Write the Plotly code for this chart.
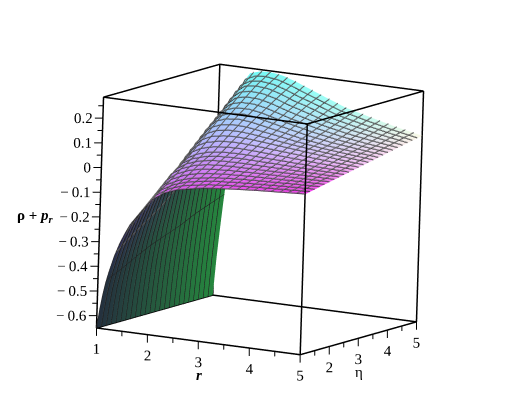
import plotly.graph_objects as go

R_RANGE = [1, 5]
ETA_RANGE = [1, 5]
Z_RANGE = [-0.65, 0.285]

r_vals = [1, 1.05, 1.1, 1.15, 1.2, 1.3, 1.4, 1.5, 1.6, 1.8, 2, 2.25, 2.5, 2.75, 3, 3.5, 4, 4.5, 5]
eta_vals = [1, 1.5, 2, 2.5, 3, 3.5, 4, 4.5, 5]

# rho + p_r, one row per eta
z_eta_10 = [-.65, -.575, -.515, -.465, -.425, -.355, -.30, -.255, -.215, -.16, -.105, -.07, -.05, -.04, -.03, -.02, -.012, -.006, 0]
z_eta_15 = [-.65, -.56, -.49, -.44, -.39, -.31, -.25, -.195, -.16, -.10, -.06, -.035, -.02, -.012, -.005, .002, .006, .01, .013]
z_eta_20 = [-.65, -.55, -.47, -.41, -.35, -.27, -.20, -.145, -.105, -.04, -.012, .008, .018, .022, .024, .025, .026, .026, .026]
z_eta_25 = [-.65, -.54, -.45, -.38, -.32, -.23, -.15, -.09, -.045, .006, .03, .045, .052, .054, .054, .05, .046, .042, .039]
z_eta_30 = [-.65, -.53, -.43, -.36, -.29, -.18, -.09, -.03, .02, .065, .085, .095, .097, .095, .09, .08, .07, .06, .052]
z_eta_35 = [-.65, -.52, -.42, -.34, -.26, -.13, -.03, .035, .082, .125, .14, .145, .14, .13, .12, .10, .085, .075, .065]
z_eta_40 = [-.65, -.51, -.40, -.31, -.23, -.09, .03, .10, .14, .178, .19, .19, .18, .165, .15, .125, .105, .09, .078]
z_eta_45 = [-.65, -.51, -.39, -.29, -.20, -.04, .08, .16, .205, .235, .24, .235, .22, .20, .185, .15, .127, .108, .091]
z_eta_50 = [-.65, -.50, -.38, -.27, -.17, 0, .13, .22, .265, .278, .28, .272, .255, .235, .215, .176, .15, .125, .104]
z_rows = [z_eta_10, z_eta_15, z_eta_20, z_eta_25, z_eta_30, z_eta_35, z_eta_40, z_eta_45, z_eta_50]

r_major = [1, 2, 3, 4, 5]
r_minor = [1.5, 2.5, 3.5, 4.5]
r_labels = ["1", "2", "3", "4", "5"]
eta_major = [2, 3, 4, 5]
eta_minor = [1.5, 2.5, 3.5, 4.5]
eta_labels = ["2", "3", "4", "5"]
z_major = [-.6, -.5, -.4, -.3, -.2, -.1, 0, .1, .2]
z_minor = [-.55, -.45, -.35, -.25, -.15, -.05, .05, .15, .25]
z_labels = ["\u2212\u20090.6", "\u2212\u20090.5", "\u2212\u20090.4", "\u2212\u20090.3", "\u2212\u20090.2", "\u2212\u20090.1", "0", "0.1", "0.2"]

# colours of the upper side, columns are low/mid/high r, rows are low/mid/high eta
top_colors = [
    [(210, 100, 240), (232, 80, 240), (240, 60, 235)],
    [(175, 185, 255), (200, 195, 255), (245, 195, 245)],
    [(110, 250, 245), (165, 255, 245), (250, 250, 230)],
]

BOX_PX = 236  # box edge on the screen
PAD = 0.05  # axis ranges run a little past the box so the tick marks are not clipped
VIEW_SCALE = 1.281
WALL_COLS = 8  # columns of the table that make up the steep wall


def mix(a, b, t):
    return tuple(a[i] + (b[i] - a[i]) * t for i in range(3))


def top_color(r, eta):
    w = max(0, min(1, ((r - 1) / 4 - 0.15) / 0.85)) * 2
    v = (eta - 1) / 4 * 2
    wi, vi = min(int(w), 1), min(int(v), 1)
    low = mix(top_colors[vi][wi], top_colors[vi][wi + 1], w - wi)
    high = mix(top_colors[vi + 1][wi], top_colors[vi + 1][wi + 1], w - wi)
    return mix(low, high, v - vi)


def under_color(r, eta):
    v = (eta - 1) / 4
    base = mix((36, 48, 62), (38, 135, 62), v)
    return mix(base, (62, 50, 112), max(0, min(1, (r - 1.15) / 0.45)) * (1 - v))


def vertex_color(r, eta):
    c = under_color(r, eta) if r <= 1.8 - 0.125 * (eta - 1) else top_color(r, eta)
    return "rgb(%d,%d,%d)" % c


xs, ys, zs, colors, ii, jj, kk = [], [], [], [], [], [], []
nr = len(r_vals)
for e, eta in enumerate(eta_vals):
    for c, r in enumerate(r_vals):
        xs.append(r)
        ys.append(eta)
        zs.append(z_rows[e][c])
        colors.append(vertex_color(r, eta))
for e in range(len(eta_vals) - 1):
    for c in range(nr - 1):
        a = e * nr + c
        ii += [a, a]
        jj += [a + 1, a + 1 + nr]
        kk += [a + 1 + nr, a + nr]

fig = go.Figure()

fig.add_trace(go.Mesh3d(
    x=xs, y=ys, z=zs, i=ii, j=jj, k=kk, vertexcolor=colors,
    lighting=dict(ambient=1, diffuse=0, specular=0, fresnel=0, roughness=1),
    hoverinfo="skip", showscale=False,
))


# mesh lines only: eta lines plus the one r line seen under the wall, the r lines
# further up, a slightly lifted copy that thickens them on the upper side, and a
# shifted copy of the wall alone that thickens the stripes under it
def mesh_lines(lift, eta_shift, x_range, show_y, color, cols=None):
    fig.add_trace(go.Surface(
        x=r_vals[:cols], y=[e + eta_shift for e in eta_vals],
        z=[[v + lift for v in row[:cols]] for row in z_rows],
        hidesurface=True, showscale=False, hoverinfo="skip",
        contours=dict(
            x=dict(show=x_range is not None, start=x_range[0] if x_range else 1, end=x_range[1] if x_range else 5,
                   size=1 / 6, color=color, width=2),
            y=dict(show=show_y, start=1, end=5, size=1 / 6, color=color, width=2),
        ),
    ))


mesh_lines(0, 0, (7 / 6, 7 / 6 + 0.01), True, "#222222")
mesh_lines(0, 0, (8 / 6, 5), False, "#4a4a4a")
mesh_lines(0.003, 0, (8 / 6, 5), True, "#6a6a6a")
mesh_lines(-0.004, 0.03, None, True, "#1c1c1c", cols=WALL_COLS)

# the box
r0, r1 = R_RANGE
e0, e1 = ETA_RANGE
z0, z1 = Z_RANGE
box_x = [r0, r1, r1, r0, r0, r0, r1, r1, r0, r0, None, r1, r1, None, r1, r1, None, r0, r0]
box_y = [e0, e0, e1, e1, e0, e0, e0, e1, e1, e0, None, e0, e0, None, e1, e1, None, e1, e1]
box_z = [z0, z0, z0, z0, z0, z1, z1, z1, z1, z1, None, z0, z1, None, z0, z1, None, z0, z1]
fig.add_trace(go.Scatter3d(
    x=box_x, y=box_y, z=box_z, mode="lines",
    line=dict(color="black", width=3), hoverinfo="skip", showlegend=False,
))

# tick marks, drawn along the screen directions
sr, se, sz = (r1 - r0) / BOX_PX, (e1 - e0) / BOX_PX, (z1 - z0) / BOX_PX
LEFT = (-0.869 * sr, -0.496 * se, -0.030 * sz)
DOWN = (0.114 * sr, -0.140 * se, -0.983 * sz)
MAJOR, MINOR = 8, 5
LABEL_DOWN, LABEL_LEFT = 1, -4


def tick_end(p, d, length):
    return (p[0] + d[0] * length, p[1] + d[1] * length, p[2] + d[2] * length)


tx, ty, tz = [], [], []


def add_tick(p, d, length):
    q = tick_end(p, d, length)
    tx.extend([p[0], q[0], None])
    ty.extend([p[1], q[1], None])
    tz.extend([p[2], q[2], None])


for v in r_major + r_minor:
    add_tick((v, e0, z0), DOWN, MAJOR if v in r_major else MINOR)
for v in eta_major + eta_minor:
    add_tick((r1, v, z0), DOWN, MAJOR if v in eta_major else MINOR)
for v in z_major + z_minor:
    add_tick((r0, e0, v), LEFT, MAJOR if v in z_major else MINOR)
fig.add_trace(go.Scatter3d(
    x=tx, y=ty, z=tz, mode="lines",
    line=dict(color="black", width=2), hoverinfo="skip", showlegend=False,
))

tick_font = dict(family="Liberation Serif", size=15, color="black")
label_sets = [
    ([tick_end((v, e0, z0), DOWN, LABEL_DOWN) for v in r_major], r_labels, "bottom center"),
    ([tick_end((r1, v, z0), DOWN, LABEL_DOWN) for v in eta_major], eta_labels, "bottom center"),
    ([tick_end((r0, e0, v), LEFT, LABEL_LEFT) for v in z_major], z_labels, "middle left"),
]
for pts, labels, pos in label_sets:
    fig.add_trace(go.Scatter3d(
        x=[p[0] for p in pts], y=[p[1] for p in pts], z=[p[2] for p in pts],
        mode="text", text=labels, textposition=pos, textfont=tick_font,
        hoverinfo="skip", showlegend=False,
    ))


def padded(rng):
    d = (rng[1] - rng[0]) * PAD
    return [rng[0] - d, rng[1] + d]


hidden = dict(visible=False, showspikes=False)
title_font = dict(family="Liberation Serif", size=15, color="black")


def page_label(text, px, py, font):
    # the page adds a margin of 8 px round the figure
    return dict(text=text, x=(px - 8) / 520, y=1 - (py - 8) / 419, xref="paper", yref="paper",
                xanchor="center", yanchor="middle", showarrow=False, font=font)


fig.update_layout(
    width=520, height=419,
    margin=dict(l=0, r=0, t=0, b=0),
    paper_bgcolor="white",
    showlegend=False,
    scene=dict(
        domain=dict(x=[0, 1 - 16 / 520], y=[16 / 419, 1]),
        xaxis=dict(range=padded(R_RANGE), **hidden),
        yaxis=dict(range=padded(ETA_RANGE), **hidden),
        zaxis=dict(range=padded(Z_RANGE), **hidden),
        aspectmode="manual",
        aspectratio=dict(x=VIEW_SCALE, y=VIEW_SCALE, z=VIEW_SCALE),
        camera=dict(
            eye=dict(x=0.4834 * 2, y=-0.8576 * 2, z=0.1782 * 2),
            up=dict(x=-0.114, y=0.140, z=0.983),
            center=dict(x=0, y=0, z=0),
            projection=dict(type="orthographic"),
        ),
    ),
    annotations=[
        page_label("<b>\u03c1 + <i>p<sub>r</sub></i></b>", 35, 216, title_font),
        page_label("<b><i>r</i></b>", 199, 375, title_font),
        page_label("\u03b7", 359, 372, title_font),
    ],
)

fig.write_html("out.html")
